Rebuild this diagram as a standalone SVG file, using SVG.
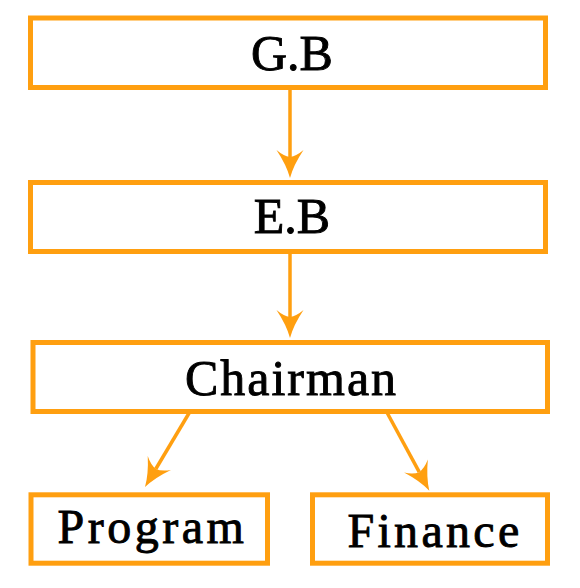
<svg xmlns="http://www.w3.org/2000/svg" width="580" height="588" viewBox="0 0 580 588">
<style>
.box{fill:#fff;stroke:#FF9F10;stroke-width:5}
.lbl{font-family:"Liberation Serif","Times New Roman",serif;fill:#000;stroke:#000;stroke-width:0.9;text-anchor:middle}
.con{stroke:#FF9F10;stroke-width:3.5;fill:none}
</style>
<defs>
<marker id="ah" markerUnits="userSpaceOnUse" markerWidth="28" markerHeight="27" viewBox="0 0 28 27" refX="7" refY="13.5" orient="auto" overflow="visible">
<path d="M28,13.5 Q15,10 0,0 Q6,7 7,13.5 Q6,20 0,27 Q15,17 28,13.5 Z" fill="#FF9F10"/>
</marker>
</defs>
<rect width="580" height="588" fill="#fff"/>
<g id="connectors">
<line class="con" x1="290" y1="87.5" x2="290" y2="157" marker-end="url(#ah)"/>
<line class="con" x1="290" y1="251.5" x2="290" y2="317" marker-end="url(#ah)"/>
<line class="con" x1="193.3" y1="406" x2="155.75" y2="469" marker-end="url(#ah)"/>
<line class="con" x1="384" y1="407" x2="419.3" y2="472.2" marker-end="url(#ah)"/>
</g>
<g id="gb"><rect class="box" x="30.5" y="18" width="515" height="69.5"/><text class="lbl" x="292" y="70" font-size="50">G.B</text></g>
<g id="eb"><rect class="box" x="30.5" y="182.5" width="515" height="69"/><text class="lbl" x="292" y="233" font-size="50">E.B</text></g>
<g id="chairman"><rect class="box" x="33" y="342.5" width="514.5" height="69"/><text class="lbl" x="291.5" y="395" font-size="50" letter-spacing="2">Chairman</text></g>
<g id="program"><rect class="box" x="31" y="494.8" width="236.5" height="68.4"/><text class="lbl" x="152.5" y="543.3" font-size="48" letter-spacing="3.5">Program</text></g>
<g id="finance"><rect class="box" x="312.5" y="494.8" width="235" height="68.4"/><text class="lbl" x="435" y="546.7" font-size="48" letter-spacing="3.3">Finance</text></g>
</svg>
